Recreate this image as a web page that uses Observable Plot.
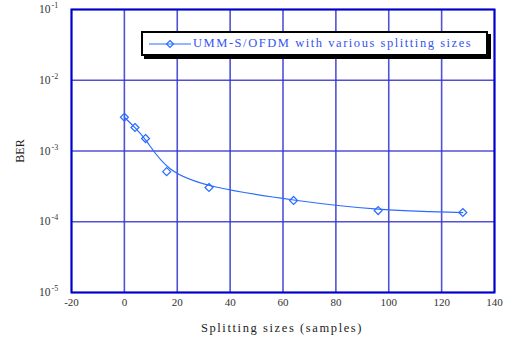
<!DOCTYPE html>
<html><head><meta charset="utf-8">
<script src="https://cdn.jsdelivr.net/npm/d3@7"></script>
<script src="https://cdn.jsdelivr.net/npm/@observablehq/plot@0.6"></script>
<style>
body{margin:0;background:#fff;}
#wrap{position:relative;width:512px;height:342px;}
#legend{position:absolute;left:141px;top:31px;width:343px;height:21px;border:2px solid #000;box-shadow:3px 3px 0 #000;background:#fff;font-family:"Liberation Serif",serif;font-size:12.5px;color:#3355ee;letter-spacing:1.55px;white-space:nowrap;}
#legend svg{position:absolute;left:6px;top:5px;}
#legend span{position:absolute;left:50px;top:3px;}
</style></head>
<body><div id="wrap"><div id="legend"><svg width="44" height="12"><line x1="0" y1="6" x2="42" y2="6" stroke="#2a6cff" stroke-width="1.2"/><path d="M21,2.5L24.5,6L21,9.5L17.5,6Z" fill="none" stroke="#2a6cff" stroke-width="1.2"/></svg><span>UMM-S/OFDM with various splitting sizes</span></div></div>
<script>
const splitSizes = [0, 4, 8, 16, 32, 64, 96, 128];
const berValues = [3.0e-3, 2.15e-3, 1.5e-3, 5.1e-4, 3.05e-4, 2.0e-4, 1.44e-4, 1.35e-4];
const xTicks = [-20, 0, 20, 40, 60, 80, 100, 120, 140];
const yTicks = [1e-5, 1e-4, 1e-3, 1e-2, 1e-1];
const yExp = ["-5", "-4", "-3", "-2", "-1"];

const data = splitSizes.map((x, i) => ({x, y: berValues[i]}));
const yt = yTicks.map((v, i) => ({v, e: yExp[i]}));
const lineColor = "#2a6cff";
const gridColor = "#3333cc";

const chart = Plot.plot({
  width: 512, height: 342,
  marginLeft: 71, marginRight: 18, marginTop: 9, marginBottom: 50,
  style: {fontFamily: "'Liberation Serif', serif", background: "white"},
  x: {domain: [-20, 140], ticks: xTicks, label: null, axis: null},
  y: {type: "log", domain: [1e-5, 1e-1], axis: null},
  marks: [
    Plot.ruleX(xTicks, {stroke: gridColor, strokeWidth: 1.6, strokeOpacity: 0.85}),
    Plot.ruleY(yTicks, {stroke: gridColor, strokeWidth: 1.6, strokeOpacity: 0.85}),
    Plot.frame({stroke: "#0000cc", strokeWidth: 2}),
    Plot.line(data, {x: "x", y: "y", curve: "basis", stroke: lineColor, strokeWidth: 1.2}),
    Plot.dot(data, {x: "x", y: "y", symbol: "diamond2", r: 3.6, stroke: lineColor, strokeWidth: 1.2, fill: "none"}),
    Plot.text(xTicks, {x: d => d, frameAnchor: "bottom", dy: 13, text: d => String(d), fontSize: 11, fill: "#333", letterSpacing: "1.5px"}),
    Plot.text(yt, {y: "v", frameAnchor: "left", dx: -21, textAnchor: "end", text: () => "10", fontSize: 11.5, fill: "#333", letterSpacing: "1px"}),
    Plot.text(yt, {y: "v", frameAnchor: "left", dx: -20, dy: -4, textAnchor: "start", text: "e", fontSize: 8, fill: "#333"}),
  ]
});
chart.style.position = "absolute";
chart.style.left = "0"; chart.style.top = "0";
const svg = d3.select(chart);
svg.append("text").attr("x", 282).attr("y", 332).attr("text-anchor", "middle")
  .attr("font-size", 12.5).attr("fill", "#222").attr("letter-spacing", "1.6px").text("Splitting sizes (samples)");
svg.append("text").attr("transform", "translate(24,151) rotate(-90)").attr("text-anchor", "middle")
  .attr("font-size", 12).attr("fill", "#222").text("BER");
const wrap = document.getElementById("wrap");
wrap.insertBefore(chart, wrap.firstChild);
</script></body></html>
